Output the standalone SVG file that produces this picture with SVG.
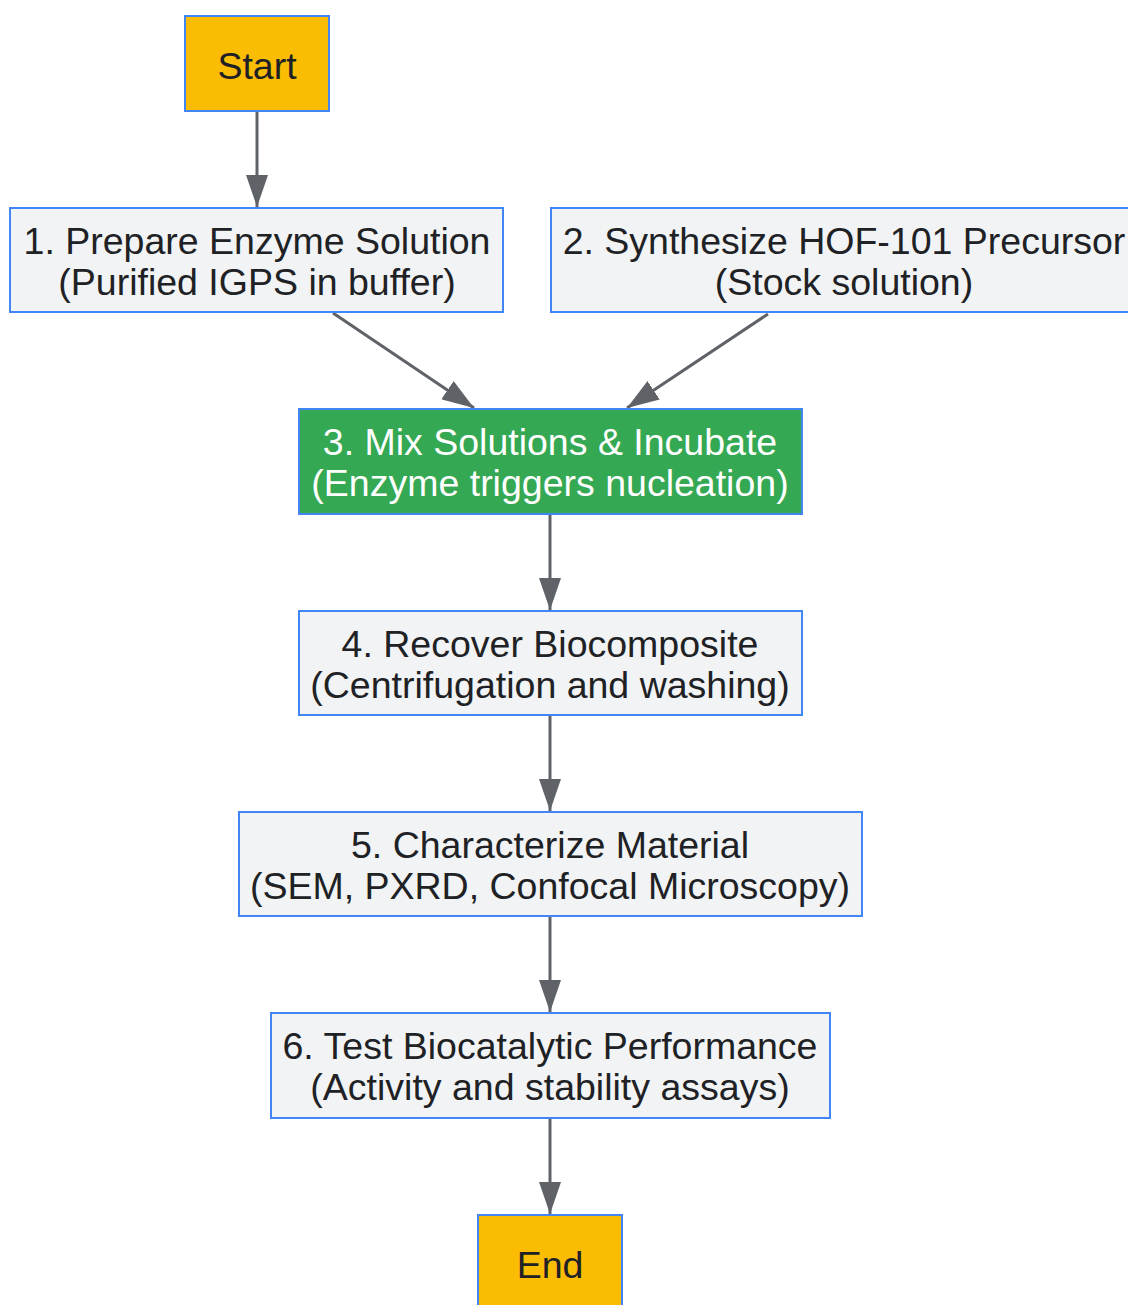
<svg xmlns="http://www.w3.org/2000/svg" width="1128" height="1305" viewBox="0 0 1128 1305">
<style>
.box{fill:#f1f3f4;stroke:#4285f4;stroke-width:2}
.term{fill:#fbbc04;stroke:#4285f4;stroke-width:2}
.green{fill:#34a853;stroke:#4285f4;stroke-width:2}
text{font-family:"Liberation Sans",Arial,sans-serif;font-size:37.5px;fill:#202124;text-anchor:middle}
.w{fill:#ffffff}
.edge{stroke:#5f6368;stroke-width:3;fill:none}
</style>
<defs>
<marker id="ah" viewBox="0 0 32 22" refX="32" refY="11" markerWidth="32" markerHeight="22" markerUnits="userSpaceOnUse" orient="auto">
<path d="M0,0 L32,11 L0,22 z" fill="#5f6368"/>
</marker>
</defs>
<rect width="1128" height="1305" fill="#ffffff"/>
<g id="connectors">
<line class="edge" x1="257" y1="112" x2="257" y2="207" marker-end="url(#ah)"/>
<line class="edge" x1="333" y1="313" x2="474" y2="408" marker-end="url(#ah)"/>
<line class="edge" x1="768" y1="314" x2="627" y2="408" marker-end="url(#ah)"/>
<line class="edge" x1="550" y1="515" x2="550" y2="610" marker-end="url(#ah)"/>
<line class="edge" x1="550" y1="716" x2="550" y2="811" marker-end="url(#ah)"/>
<line class="edge" x1="550" y1="917" x2="550" y2="1012" marker-end="url(#ah)"/>
<line class="edge" x1="550" y1="1119" x2="550" y2="1214" marker-end="url(#ah)"/>
</g>
<g id="start"><rect class="term" x="185" y="16" width="144" height="95"/><text x="257" y="79">Start</text></g>
<g id="n1"><rect class="box" x="10" y="208" width="493" height="104"/><text x="257" y="254">1. Prepare Enzyme Solution</text><text x="257" y="295">(Purified IGPS in buffer)</text></g>
<g id="n2"><rect class="box" x="551" y="208" width="586" height="104"/><text x="844" y="254">2. Synthesize HOF-101 Precursor</text><text x="844" y="295">(Stock solution)</text></g>
<g id="n3"><rect class="green" x="299" y="409" width="503" height="105"/><text class="w" x="550" y="455">3. Mix Solutions &amp; Incubate</text><text class="w" x="550" y="496">(Enzyme triggers nucleation)</text></g>
<g id="n4"><rect class="box" x="299" y="611" width="503" height="104"/><text x="550" y="657">4. Recover Biocomposite</text><text x="550" y="698">(Centrifugation and washing)</text></g>
<g id="n5"><rect class="box" x="239" y="812" width="623" height="104"/><text x="550" y="858">5. Characterize Material</text><text x="550" y="899">(SEM, PXRD, Confocal Microscopy)</text></g>
<g id="n6"><rect class="box" x="271" y="1013" width="559" height="105"/><text x="550" y="1059">6. Test Biocatalytic Performance</text><text x="550" y="1100">(Activity and stability assays)</text></g>
<g id="end"><rect class="term" x="478" y="1215" width="144" height="95"/><text x="550" y="1278">End</text></g>
</svg>
